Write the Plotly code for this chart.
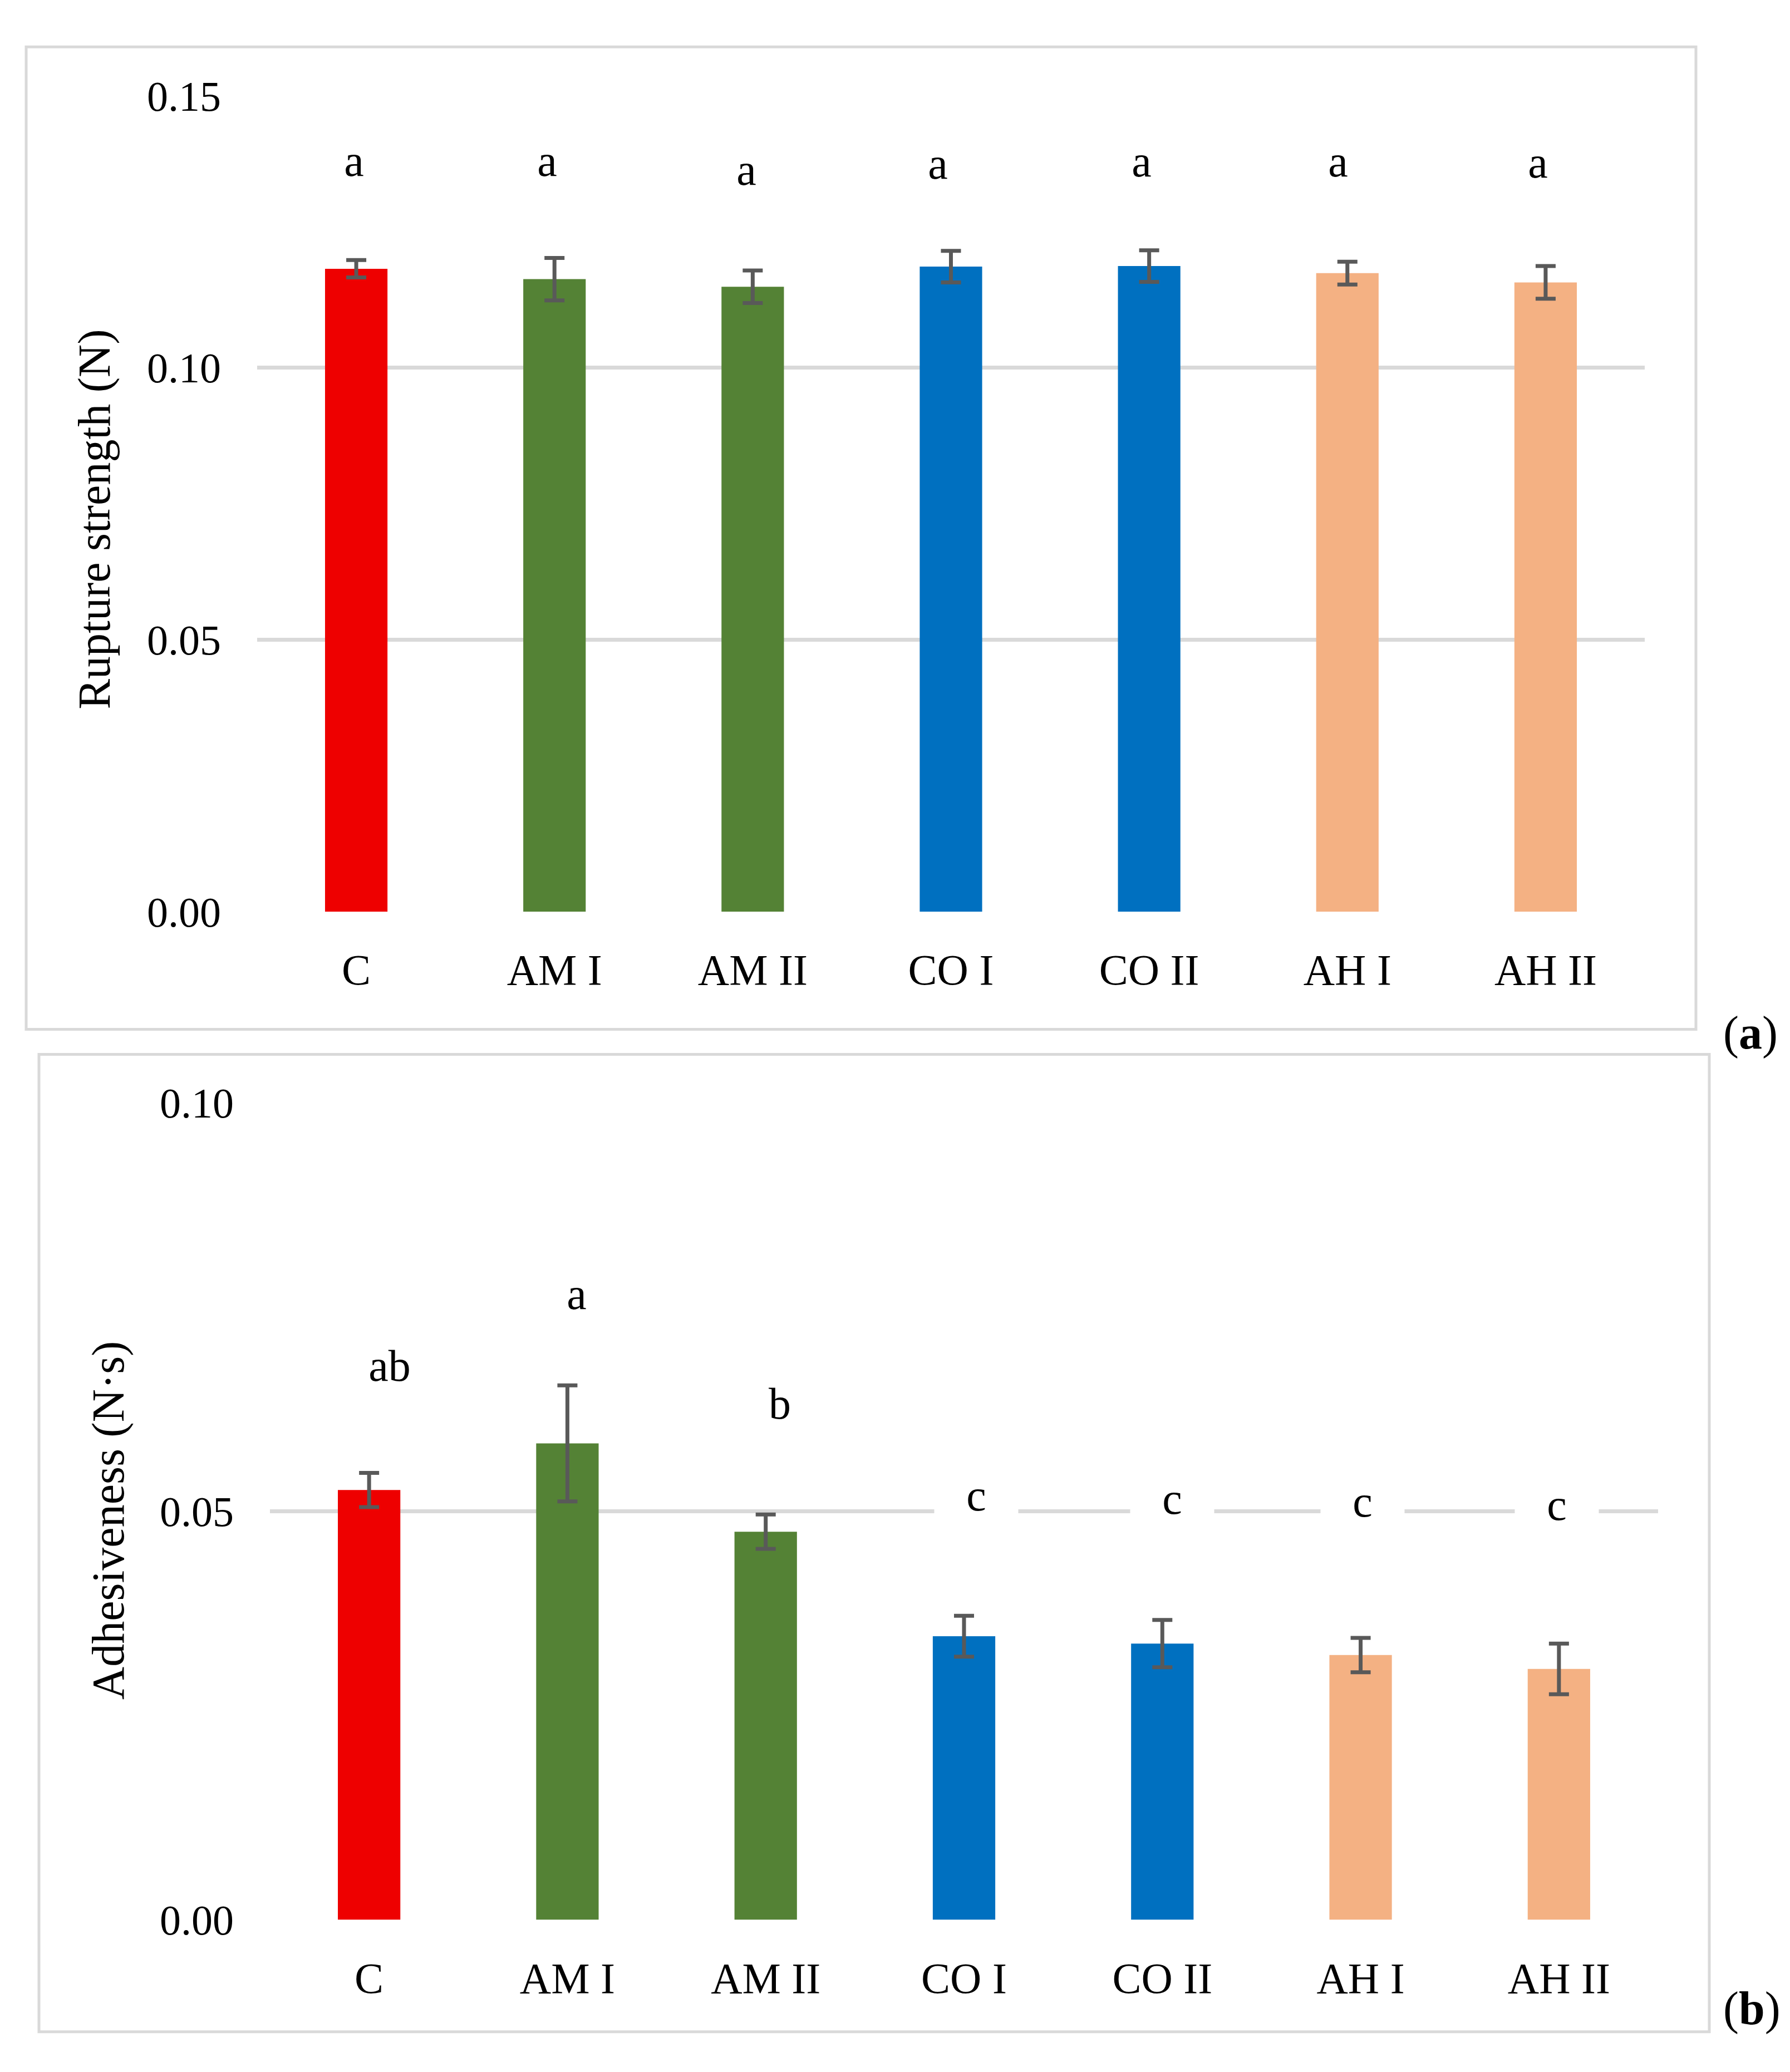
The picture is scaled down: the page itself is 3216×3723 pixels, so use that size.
import plotly.graph_objects as go
from plotly.subplots import make_subplots

# data
categories = ["C", "AM I", "AM II", "CO I", "CO II", "AH I", "AH II"]
bar_colors = ["#EE0000", "#548235", "#548235", "#0070C0", "#0070C0", "#F4B183", "#F4B183"]

rupture = [0.1182, 0.1163, 0.1149, 0.1186, 0.1187, 0.1174, 0.1157]
rupture_err = [0.0016, 0.0039, 0.0030, 0.0029, 0.0029, 0.0021, 0.0030]
rupture_letters = ["a", "a", "a", "a", "a", "a", "a"]
rupture_letters_y = [0.1374, 0.1374, 0.1358, 0.1369, 0.1373, 0.1373, 0.1371]
rupture_letters_dx = [-4, -13, -11, -24, -14, -17, -14]

adhes = [0.0526, 0.0583, 0.0475, 0.0347, 0.0338, 0.0324, 0.0307]
adhes_err = [0.0021, 0.0071, 0.0021, 0.0025, 0.0029, 0.0021, 0.0031]
adhes_letters = ["ab", "a", "b", "c", "c", "c", "c"]
adhes_letters_y = [0.0674, 0.0762, 0.0628, 0.0515, 0.0511, 0.0508, 0.0504]
adhes_letters_dx = [37, 17, 25, 22, 18, 3, -4]

W, H = 3216, 3723
FONT = "Liberation Serif"
GRID = "#D9D9D9"


def px(x):
    return x / W


def py(y):
    return 1 - y / H


fig = make_subplots(rows=2, cols=1)

for row, vals, errs in [(1, rupture, rupture_err), (2, adhes, adhes_err)]:
    fig.add_trace(
        go.Bar(x=categories,
               y=vals,
               marker=dict(color=bar_colors, line=dict(width=0)),
               error_y=dict(type='data', array=errs, visible=True,
                            color="#595959", thickness=7, width=18),
               showlegend=False),
        row=row, col=1)

fig.update_xaxes(showline=False, zeroline=False, ticks="",
                 ticklabelstandoff=52,
                 tickfont=dict(family=FONT, size=78, color="black"))
fig.update_yaxes(showline=False, zeroline=False, ticks="",
                 showgrid=True, gridcolor=GRID, gridwidth=7,
                 tickformat=".2f", dtick=0.05, ticklabelstandoff=64,
                 tickfont=dict(family=FONT, size=76, color="black"))

fig.update_layout(
    width=W, height=H,
    margin=dict(l=0, r=0, t=0, b=0),
    paper_bgcolor="white", plot_bgcolor="white",
    bargap=0.685,
    xaxis=dict(domain=[px(454), px(2947)], anchor="y"),
    yaxis=dict(domain=[py(1626), py(126)], range=[0, 0.15]),
    xaxis2=dict(domain=[px(477), px(2971)], anchor="y2"),
    yaxis2=dict(domain=[py(3479), py(1977)], range=[0, 0.10]),
)

# framed boxes around each panel
for x0, y0, x1, y1 in [(39, 36, 3039, 1842), (62, 1888, 3063, 3685)]:
    fig.add_shape(type="rect", xref="paper", yref="paper",
                  x0=px(x0), x1=px(x1), y0=py(y1), y1=py(y0),
                  line=dict(color=GRID, width=5), layer="below")

# significance letters
for xr, yr, letters, ys, dxs in [("x", "y", rupture_letters, rupture_letters_y, rupture_letters_dx),
                                 ("x2", "y2", adhes_letters, adhes_letters_y, adhes_letters_dx)]:
    for cat, txt, yv, dx in zip(categories, letters, ys, dxs):
        fig.add_annotation(x=cat, y=yv, xref=xr, yref=yr, text=txt,
                           showarrow=False, xshift=dx, yshift=6,
                           xanchor="center", yanchor="middle",
                           bgcolor="white", width=148,
                           font=dict(family=FONT, size=80, color="black"))

# axis titles
fig.add_annotation(x=px(162), y=py(905), xref="paper", yref="paper",
                   text="Rupture strength (N)", textangle=-90, showarrow=False,
                   xanchor="center", yanchor="middle",
                   font=dict(family=FONT, size=82, color="black"))
fig.add_annotation(x=px(186), y=py(2745), xref="paper", yref="paper",
                   text="Adhesiveness (N·s)", textangle=-90, showarrow=False,
                   xanchor="center", yanchor="middle",
                   font=dict(family=FONT, size=82, color="black"))

# panel labels
fig.add_annotation(x=px(3137), y=py(1849), xref="paper", yref="paper",
                   text="(<b>a</b>)", showarrow=False,
                   xanchor="center", yanchor="middle",
                   font=dict(family=FONT, size=84, color="black"))
fig.add_annotation(x=px(3139), y=py(3642), xref="paper", yref="paper",
                   text="(<b>b</b>)", showarrow=False,
                   xanchor="center", yanchor="middle",
                   font=dict(family=FONT, size=84, color="black"))

fig.write_html("out.html")
